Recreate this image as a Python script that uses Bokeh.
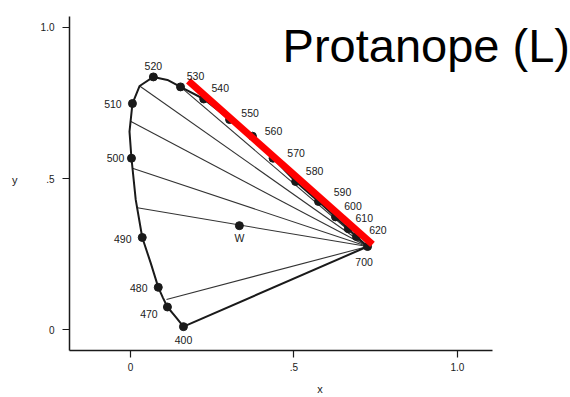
from bokeh.plotting import figure
from bokeh.models import Range1d, FixedTicker, Label, ColumnDataSource
from bokeh.embed import file_html
from bokeh.resources import INLINE
from bokeh.core.properties import value

# ---- data ----
locus_wl = [400, 450, 470, 475, 480, 485, 490, 495, 500, 505, 510, 515, 520,
            525, 530, 540, 550, 560, 570, 580, 590, 600, 610, 620, 700]
locus_x = [0.162, 0.140, 0.113, 0.099, 0.085, 0.062, 0.036, 0.016, 0.003, -0.003,
           0.006, 0.028, 0.070, 0.113, 0.153, 0.224, 0.303, 0.373, 0.436, 0.505,
           0.575, 0.627, 0.666, 0.691, 0.725]
locus_y = [0.010, 0.040, 0.075, 0.106, 0.140, 0.220, 0.305, 0.430, 0.567, 0.655,
           0.748, 0.806, 0.836, 0.826, 0.803, 0.763, 0.695, 0.640, 0.567, 0.490,
           0.424, 0.373, 0.334, 0.308, 0.275]
marked_wl = [400, 470, 480, 490, 500, 510, 520, 530, 540, 550, 560, 570, 580,
             590, 600, 610, 620, 700]
white_x = [0.333]
white_y = [0.344]
white_label = ["W"]
# confusion lines: start on the locus, converge at the 700 nm corner
confusion_x0 = [0.153, 0.028, 0.000, 0.006, 0.021, 0.110]
confusion_y0 = [0.803, 0.806, 0.689, 0.534, 0.403, 0.100]
# red dichromat line
red_x = [0.177, 0.740]
red_y = [0.823, 0.282]
tick_values = [0, 0.5, 1.0]
tick_labels = ["0", ".5", "1.0"]
title_text = "Protanope (L)"

# ---- label placement (style, screen px) ----
label_offsets = {
    400: (0, 13), 470: (-18.5, 7), 480: (-19.5, 1), 490: (-19.5, 2),
    500: (-16, 0), 510: (-19.5, 0), 520: (0, -11), 530: (15, -11),
    540: (16.5, -11), 550: (20.5, -7), 560: (21, -5), 570: (23, -5),
    580: (19, -11), 590: (24, -9), 600: (17.5, -11), 610: (16, -11),
    620: (21.5, -7), 700: (-3.5, 15),
}

FONT = "Liberation Sans"
INK = "#1a1a1a"

p = figure(width=570, height=397, output_backend="svg", toolbar_location=None,
           x_range=Range1d(-0.1865, 1.3456), y_range=Range1d(-0.0689, 1.0623),
           min_border_left=69, min_border_right=0, min_border_top=8,
           min_border_bottom=44)
p.outline_line_color = None
p.xgrid.visible = False
p.ygrid.visible = False
p.background_fill_color = "white"
p.border_fill_color = "white"

for ax, bnd, stand in ((p.xaxis, (-0.1865, 1.107), 5), (p.yaxis, (-0.0689, 1.036), 8)):
    ax.bounds = bnd
    ax.ticker = FixedTicker(ticks=tick_values)
    ax.major_label_overrides = {v: s for v, s in zip(tick_values, tick_labels)}
    ax.axis_line_color = INK
    ax.axis_line_width = 1.5
    ax.major_tick_line_color = INK
    ax.major_tick_line_width = 1.2
    ax.major_tick_out = 7
    ax.major_tick_in = 0
    ax.minor_tick_line_color = None
    ax.major_label_text_font = FONT
    ax.major_label_text_font_size = "10px"
    ax.major_label_text_color = INK
    ax.major_label_standoff = stand
    ax.axis_label_text_font = FONT
    ax.axis_label_text_font_size = "11px"
    ax.axis_label_text_font_style = "normal"
    ax.axis_label_text_color = INK
p.yaxis.major_label_orientation = "horizontal"
p.xaxis.axis_label = "x"
p.yaxis.axis_label = "y"
p.yaxis.axis_label_orientation = "horizontal"
p.xaxis.axis_label_standoff = 9
p.yaxis.axis_label_standoff = 20

# confusion lines
cx, cy = locus_x[-1], locus_y[-1]
p.segment(x0=confusion_x0, y0=confusion_y0, x1=[cx] * len(confusion_x0),
          y1=[cy] * len(confusion_y0), line_color="#333333", line_width=1.1)

# spectral locus and purple line
p.line(locus_x, locus_y, line_color=INK, line_width=2)
p.line([locus_x[0], locus_x[-1]], [locus_y[0], locus_y[-1]], line_color=INK, line_width=2)

# marked points
lookup = {w: (x, y) for w, x, y in zip(locus_wl, locus_x, locus_y)}
mx = [lookup[w][0] for w in marked_wl]
my = [lookup[w][1] for w in marked_wl]
src = ColumnDataSource(dict(
    x=mx, y=my, text=[str(w) for w in marked_wl],
    dx=[label_offsets[w][0] for w in marked_wl],
    dy=[label_offsets[w][1] for w in marked_wl]))
p.scatter("x", "y", source=src, size=8, fill_color=INK, line_color=INK)
p.scatter(white_x, white_y, size=8, fill_color=INK, line_color=INK)

# red line
p.line(red_x, red_y, line_color="#ff0000", line_width=7)

p.text("x", "y", text="text", source=src, x_offset="dx", y_offset="dy",
       text_font=value(FONT), text_font_size="10.5px", text_color=INK,
       text_align="center", text_baseline="middle")
p.text(white_x, white_y, text=white_label, y_offset=12,
       text_font=value(FONT), text_font_size="10.5px", text_color=INK,
       text_align="center", text_baseline="middle")

# title
p.add_layout(Label(x=0.465, y=0.941, text=title_text, text_font=FONT,
                   text_font_size="47px", text_color="black",
                   text_align="left", text_baseline="alphabetic"))

open("out.html", "w").write(file_html(p, INLINE))
